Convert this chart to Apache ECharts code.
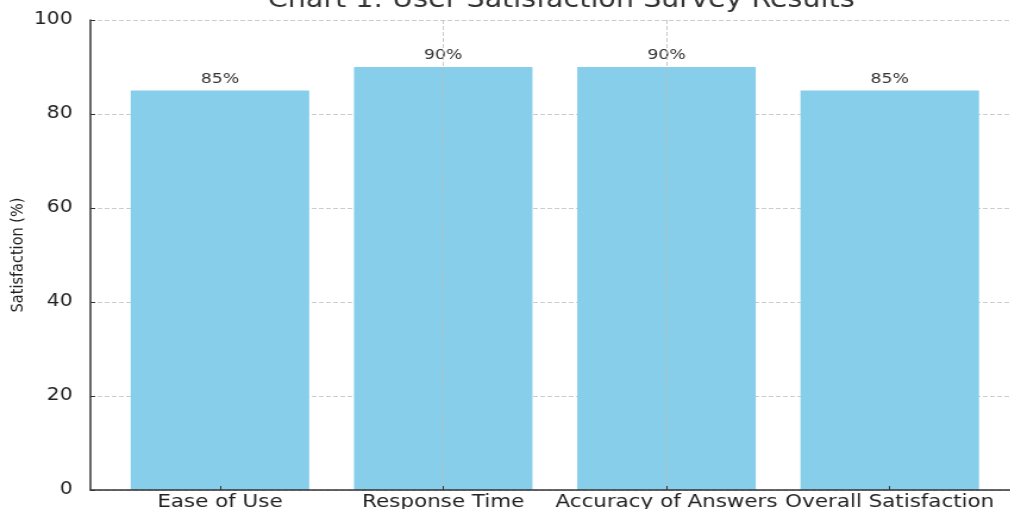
<!DOCTYPE html>
<html>
<head>
<meta charset="utf-8">
<script src="https://cdn.jsdelivr.net/npm/echarts@6/dist/echarts.min.js"></script>
<style>
  html, body { margin: 0; padding: 0; background: #fff; overflow: hidden; }
  /* the source image is stretched sideways, so draw narrower and widen it */
  #main { width: 849px; height: 509px; transform: scaleX(1.19); transform-origin: 0 0; }
</style>
</head>
<body>
<div id="main"></div>
<script>
var categories = ["Ease of Use", "Response Time", "Accuracy of Answers", "Overall Satisfaction"];
var satisfaction = [85, 90, 90, 85];
var yTicks = [0, 20, 40, 60, 80, 100];

var myChart = echarts.init(document.getElementById("main"));

// bars sit on a value x axis so the side margins match the original
var barData = [];
for (var i = 0; i < satisfaction.length; i++) {
  barData.push([i, satisfaction[i]]);
}

var option = {
  animation: false,
  title: {
    text: "Chart 1: User Satisfaction Survey Results",
    left: 220,
    top: -16,
    textStyle: {
      color: "#333",
      fontSize: 24,
      fontWeight: "normal",
      fontFamily: "DejaVu Sans"
    }
  },
  grid: {
    left: 76,
    right: 0,
    top: 20,
    bottom: 19,
    outerBoundsMode: "none"
  },
  xAxis: {
    type: "value",
    min: -0.58,
    max: 3.54,
    z: 3,
    axisLine: {
      onZero: false,
      lineStyle: { color: "#333", width: 1.5 }
    },
    axisTick: {
      show: true,
      inside: true,
      customValues: [0, 1, 2, 3],
      length: 4,
      lineStyle: { color: "#333" }
    },
    axisLabel: {
      customValues: [0, 1, 2, 3],
      margin: 3,
      color: "#222",
      fontSize: 18,
      fontFamily: "DejaVu Sans",
      formatter: function (v) {
        return categories[Math.round(v)] || "";
      }
    },
    splitLine: {
      show: true,
      showMinLine: false,
      showMaxLine: false,
      lineStyle: { color: "#bbb", type: "dashed", width: 1, opacity: 0.8 }
    }
  },
  yAxis: {
    type: "value",
    min: yTicks[0],
    max: yTicks[yTicks.length - 1],
    interval: 20,
    name: "Satisfaction (%)",
    nameLocation: "middle",
    nameGap: 53,
    nameMoveOverlap: false,
    nameTextStyle: {
      color: "#222",
      fontSize: 14.5,
      fontFamily: "DejaVu Sans"
    },
    axisLine: {
      show: true,
      onZero: false,
      lineStyle: { color: "#333", width: 1.5 }
    },
    axisTick: {
      show: true,
      inside: true,
      length: 4,
      lineStyle: { color: "#333" }
    },
    axisLabel: {
      margin: 15,
      color: "#222",
      fontSize: 17,
      fontFamily: "DejaVu Sans"
    },
    splitLine: {
      show: true,
      lineStyle: { color: "#ccc", type: "dashed", width: 1 }
    }
  },
  series: [
    {
      type: "bar",
      barWidth: 150,
      data: barData,
      itemStyle: { color: "#87CEEB" },
      label: {
        show: true,
        position: "top",
        distance: 4,
        color: "#333",
        fontSize: 14.5,
        fontFamily: "DejaVu Sans",
        formatter: function (p) {
          return p.value[1] + "%";
        }
      }
    }
  ]
};

myChart.setOption(option);
</script>
</body>
</html>
